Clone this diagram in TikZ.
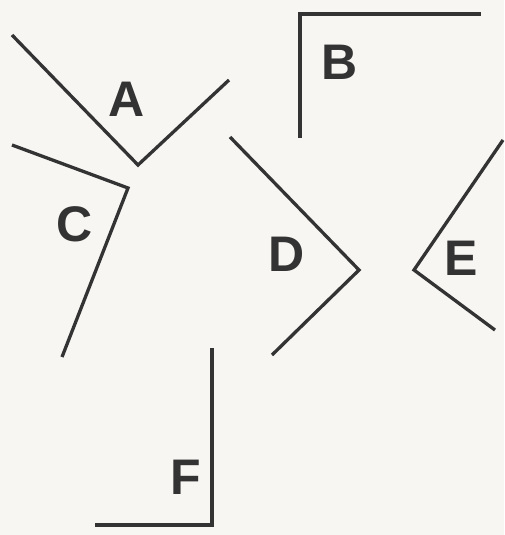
\documentclass[tikz,border=0pt]{standalone}
\usepackage{fontspec}
\setmainfont{Liberation Sans}
\definecolor{ink}{HTML}{333333}
\definecolor{paper}{HTML}{F8F6F3}

\begin{document}
\begin{tikzpicture}[x=1pt, y=-1pt, line width=3.3pt, ink,
		lbl/.style={font=\fontsize{50}{56}\selectfont\bfseries, text=ink, inner sep=0pt}]
			\fill[paper] (0,0) rectangle (504,535);
			\useasboundingbox (0,0) rectangle (504,535);
			
			\draw (12,35) -- (138,165) -- (229,80);
			\draw (300,138) -- (300,14) -- (481,14);
			\draw (12,145) -- (128,188) -- (62,357);
			\draw (230,137) -- (359,270) -- (272,355);
			\draw (503,140) -- (414,270) -- (495,330);
			\draw (212,348) -- (212,525) -- (95,525);
			
			\node[lbl] (A) at (127,99) {A};
			\node[lbl] (B) at (340,62) {B};
			\node[lbl] (C) at (75,224) {C};
			\node[lbl] (D) at (287,254) {D};
			\node[lbl] (E) at (461,258) {E};
			\node[lbl] (F) at (186,477) {F};
		\end{tikzpicture}
\end{document}
